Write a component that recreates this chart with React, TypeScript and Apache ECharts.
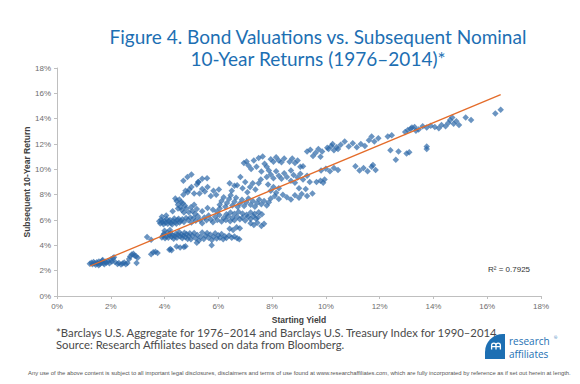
import React, { useEffect, useRef } from "react";
import * as echarts from "echarts";

const xTicks = [0, 2, 4, 6, 8, 10, 12, 14, 16, 18];
const yTicks = [0, 2, 4, 6, 8, 10, 12, 14, 16, 18];

const titleLines = [
  "Figure 4. Bond Valuations vs. Subsequent Nominal",
  "10-Year Returns (1976\u20132014)*",
];
const footLines = [
  "*Barclays U.S. Aggregate for 1976\u20132014 and Barclays U.S. Treasury Index for 1990\u20132014.",
  "Source: Research Affiliates based on data from Bloomberg.",
];
const disclaimer =
  "Any use of the above content is subject to all important legal disclosures, disclaimers and terms of use found at www.researchaffiliates.com, which are fully incorporated by reference as if set out herein at length.";
const rSquared = "R\u00b2 = 0.7925";

// starting yield (%), subsequent 10-year return (%)
const lowPoints = [
  [1.22, 2.55], [1.28, 2.62], [1.32, 2.5], [1.36, 2.68], [1.4, 2.58], [1.44, 2.47], [1.48, 2.66], [1.52, 2.56],
  [1.56, 2.72], [1.6, 2.52], [1.64, 2.64], [1.68, 2.78], [1.72, 2.6], [1.76, 2.5], [1.8, 2.7], [1.84, 2.62],
  [1.9, 2.75], [1.95, 2.58], [2.0, 2.88], [2.04, 2.72], [2.08, 2.98], [2.12, 3.05], [2.16, 2.68], [2.25, 2.52],
  [2.3, 2.6], [2.38, 2.48], [2.44, 2.56], [2.5, 2.64], [2.56, 2.5], [2.62, 2.6], [2.68, 2.92], [2.72, 3.12],
  [2.78, 3.28], [2.84, 3.34], [2.88, 3.2], [2.94, 3.14], [3.0, 3.02], [2.96, 2.6], [1.55, 2.42], [1.7, 2.85],
  [3.35, 4.65], [3.5, 4.45], [3.5, 3.3], [3.58, 3.45], [3.66, 3.5], [3.74, 3.4],
];

const midPoints = [
  [3.8, 5.9], [3.84, 5.72], [3.88, 6.02], [3.92, 5.82], [3.96, 5.66], [4.0, 5.95], [4.04, 5.78], [4.08, 6.08],
  [4.12, 5.7], [4.16, 5.9], [4.2, 6.0], [4.24, 5.76], [4.28, 5.64], [4.32, 5.92], [4.36, 6.12], [4.4, 5.84],
  [4.44, 5.7], [4.48, 6.0], [4.52, 6.1], [4.56, 5.8], [4.6, 5.95], [4.66, 6.05], [4.72, 5.85], [4.8, 6.15],
  [4.88, 6.0], [4.96, 6.2], [3.9, 6.25], [4.06, 6.35],
  [3.9, 4.62], [3.94, 4.78], [3.98, 4.92], [4.02, 4.56], [4.06, 4.7], [4.1, 5.02], [4.14, 4.6], [4.18, 4.82],
  [4.22, 4.96], [4.26, 4.66], [4.3, 4.8], [4.34, 4.52], [4.38, 4.72], [4.42, 4.9], [4.46, 4.6], [4.5, 4.84],
  [4.54, 5.06], [4.58, 4.7], [4.62, 4.86], [4.66, 4.55], [4.7, 4.76], [4.74, 5.0], [4.78, 4.64], [4.82, 4.9],
  [4.86, 4.5], [4.9, 4.74], [4.94, 4.96], [4.0, 5.15], [4.2, 5.22],
  [4.18, 3.66], [4.22, 3.72], [4.26, 3.62], [4.45, 3.9], [4.58, 3.82], [4.72, 3.86], [4.78, 3.92],
  [5.2, 4.2], [5.75, 4.0],
  [4.4, 7.7], [4.45, 7.5], [4.5, 7.2], [4.55, 7.62], [4.6, 7.0], [4.64, 6.78], [4.68, 7.32], [4.72, 6.6],
  [4.76, 7.12], [4.8, 6.9], [4.86, 8.2], [4.92, 8.4], [4.98, 7.0], [5.04, 6.7], [5.1, 7.2], [5.14, 6.5],
  [5.2, 8.8], [5.26, 9.0], [5.0, 8.6], [4.7, 8.0], [4.78, 8.3], [5.1, 8.1], [4.62, 7.4],
  [4.98, 4.48], [5.04, 4.75], [5.1, 4.98], [5.16, 4.56], [5.22, 4.82], [5.28, 4.38], [5.34, 4.66], [5.4, 5.02],
  [5.46, 4.5], [5.52, 4.76], [5.58, 4.98], [5.64, 4.6], [5.7, 4.85], [5.76, 4.42], [5.82, 4.68], [5.88, 4.95],
  [5.94, 4.54], [6.0, 4.8], [6.06, 4.6], [6.12, 4.9], [6.18, 4.48], [6.24, 4.72], [6.3, 4.58], [6.4, 4.78],
  [6.5, 4.6], [6.6, 4.7], [6.7, 4.55], [6.78, 4.48],
  [5.0, 5.8], [5.08, 6.15], [5.16, 5.94], [5.24, 6.3], [5.32, 6.0], [5.4, 5.75], [5.48, 6.2], [5.56, 5.98],
  [5.64, 6.35], [5.72, 6.04], [5.8, 5.82], [5.88, 6.25], [5.96, 6.0], [6.04, 6.4], [6.12, 5.88], [6.2, 6.15],
  [6.28, 6.0], [6.36, 6.3], [6.44, 5.9], [6.52, 6.15], [6.6, 5.98], [6.7, 6.25], [6.8, 6.05], [6.9, 6.2],
  [7.0, 5.96], [7.1, 6.25], [7.2, 6.08], [7.3, 6.3], [7.4, 6.1], [7.48, 6.22],
  [6.3, 6.45], [6.45, 6.6], [6.6, 6.5], [6.75, 6.65], [6.9, 6.52], [7.05, 6.42], [7.2, 6.6], [7.35, 6.5],
  [7.5, 6.62], [7.62, 6.46],
  [4.3, 6.7], [4.5, 6.9], [4.9, 6.62], [5.2, 6.86], [5.4, 6.7], [5.6, 6.95], [5.8, 6.8], [5.95, 6.66], [6.05, 6.9],
  [6.42, 5.3], [6.55, 5.22], [6.68, 5.42], [6.8, 5.34],
  [7.2, 5.75], [7.32, 5.6], [7.45, 5.78], [7.6, 5.52], [7.7, 5.7],
];

const upperPoints = [
  [6.05, 7.2], [6.12, 7.5], [6.2, 7.8], [6.26, 7.05], [6.32, 7.35], [6.4, 7.66], [6.46, 7.95], [6.52, 7.15],
  [6.6, 7.45], [6.66, 7.75], [6.72, 7.02], [6.8, 7.3], [6.88, 7.6], [6.96, 7.1], [7.04, 7.4], [7.12, 7.7],
  [7.2, 7.2], [7.28, 7.5], [7.36, 7.05], [7.44, 7.35], [7.52, 7.62], [7.6, 7.25], [7.7, 7.5], [7.8, 7.15], [7.88, 7.4],
  [5.3, 8.1], [5.4, 8.45], [5.5, 8.25], [5.6, 8.6], [5.72, 7.9], [5.82, 8.3], [5.92, 8.0], [6.02, 8.4],
  [6.42, 8.9], [6.5, 8.3], [6.6, 8.7], [6.7, 8.75], [6.82, 9.4], [6.9, 8.5], [7.0, 9.0], [7.08, 8.2],
  [7.18, 8.6], [7.28, 8.9], [7.38, 8.4], [7.5, 8.9], [7.58, 9.2],
  [4.7, 9.1], [4.85, 9.4], [5.0, 9.6], [5.25, 9.0], [5.4, 9.25], [5.58, 9.3],
  [6.95, 10.5], [7.05, 10.62], [7.12, 10.3], [7.22, 10.02], [7.32, 10.7], [7.42, 10.2], [7.5, 10.9], [7.6, 9.82],
  [7.65, 11.02], [7.72, 10.45], [7.8, 10.2], [7.88, 9.9], [7.8, 9.4],
  [7.95, 10.8], [8.05, 10.6], [8.15, 10.95], [8.25, 10.7], [8.35, 10.55], [8.45, 10.85], [8.65, 10.6], [8.75, 10.85],
  [8.85, 10.5], [8.95, 10.7], [9.05, 10.2], [9.15, 10.25],
  [9.3, 11.4], [9.42, 11.55], [9.52, 11.05], [9.62, 11.3], [9.72, 11.6], [9.8, 11.0], [9.86, 11.4], [10.1, 11.6],
  [10.2, 11.85], [10.3, 11.5], [10.4, 11.75],
  [7.95, 9.6], [8.05, 9.3], [8.15, 9.85], [8.25, 9.5], [8.35, 9.25], [8.45, 9.7], [8.55, 9.4], [8.7, 9.9], [8.8, 9.55],
  [8.7, 9.1], [8.85, 8.95], [8.95, 9.35], [9.05, 9.65], [9.15, 9.2], [9.3, 9.5], [9.4, 9.0],
  [9.65, 9.0], [9.8, 9.1], [9.9, 8.95], [9.95, 9.2],
  [7.85, 8.8], [7.95, 8.3], [8.05, 8.6], [8.15, 8.15], [8.25, 8.5],
  [7.95, 7.7], [8.1, 7.9], [8.25, 7.65], [8.4, 8.0], [8.55, 7.8], [8.7, 7.62], [8.85, 7.95], [9.0, 7.75],
  [9.1, 8.05], [9.3, 7.9], [9.5, 8.1], [9.0, 8.5], [9.25, 8.45],
];

const highPoints = [
  [9.82, 9.9], [10.0, 10.05], [10.15, 9.85], [10.3, 10.1], [10.45, 9.95],
  [10.05, 11.7], [10.25, 12.0], [10.45, 11.6], [10.55, 11.95], [10.7, 12.2], [10.85, 11.8], [11.0, 12.05], [11.15, 11.75],
  [11.3, 12.0], [11.45, 11.85], [11.6, 12.3], [11.7, 12.6], [11.8, 12.2], [11.95, 12.45], [12.3, 12.6], [12.45, 12.7],
  [12.95, 12.95], [13.05, 13.1], [13.2, 13.3], [13.35, 13.05],
  [11.1, 10.25], [11.25, 9.9], [11.4, 10.1], [11.55, 9.85], [11.7, 10.2], [11.85, 9.95], [11.75, 10.35],
  [12.4, 11.5], [12.7, 11.4], [12.6, 10.75], [13.0, 11.25], [13.1, 11.35],
  [13.15, 13.2], [13.3, 13.35], [13.45, 13.15], [13.6, 13.4], [13.75, 13.3], [13.9, 13.45], [14.05, 13.35], [14.2, 13.25],
  [14.3, 13.5], [14.45, 13.4], [14.55, 13.65], [14.62, 13.9], [14.7, 14.1], [14.75, 13.6], [14.85, 13.8], [14.95, 13.5],
  [15.2, 14.1], [15.4, 13.9], [16.3, 14.4], [16.5, 14.7],
  [13.75, 11.6], [13.75, 11.8],
];

// linear trend line end points
const trendX = [1.23, 16.5];
const trendY = [2.37, 15.9];

const BLUE = "#1d6fb3";

export default function App() {
  const ref = useRef<HTMLDivElement>(null);
  useEffect(() => {
    if (!ref.current) return;
    echarts.graphic.registerShape(
      "logo",
      echarts.graphic.extendPath(
        "M0.6 7 L0.6 3.2 Q0.6 0.6 2.8 0.6 Q5 0.6 5 3.2 L5 7 M5 3.2 Q5 0.6 7.2 0.6 Q9.4 0.6 9.4 3.2 L9.4 7 M0.6 4.2 L9.4 4.2",
        {}
      ) as any
    );
    const chart = echarts.init(ref.current, undefined, { renderer: "svg" });
    const axisCommon = {
      type: "value" as const,
      min: xTicks[0],
      max: xTicks[xTicks.length - 1],
      interval: xTicks[1] - xTicks[0],
      splitLine: { show: false },
      axisLine: { show: true, lineStyle: { color: "#bfbfbf", width: 1 } },
      axisTick: { show: true, length: 3, lineStyle: { color: "#bfbfbf" } },
      axisLabel: {
        formatter: "{value}%",
        color: "#6e6e6e",
        fontSize: 8,
        fontFamily: "Liberation Sans",
        margin: 6,
      },
      nameLocation: "middle" as const,
      nameMoveOverlap: false,
      nameTextStyle: {
        color: "#404040",
        fontSize: 8.5,
        fontWeight: "bold" as const,
        fontFamily: "Liberation Sans",
      },
    };
    const allPoints = [...lowPoints, ...midPoints, ...upperPoints, ...highPoints];
    const txt = (text: string, x: number, y: number, extra: any) => ({
      type: "text",
      style: { text, x, y, textVerticalAlign: "middle", ...extra },
    });
    chart.setOption({
      animation: false,
      grid: { left: 57, right: 39, top: 68, bottom: 88, containLabel: false },
      xAxis: { ...axisCommon, name: "Starting Yield", nameGap: 19 },
      yAxis: {
        ...axisCommon,
        min: yTicks[0],
        max: yTicks[yTicks.length - 1],
        interval: yTicks[1] - yTicks[0],
        name: "Subsequent 10-Year Return",
        nameGap: 26,
      },
      series: [
        {
          type: "scatter",
          data: allPoints,
          symbol: "diamond",
          symbolSize: 6.5,
          itemStyle: { color: "#2b67a6", opacity: 0.7 },
          z: 2,
        },
        {
          type: "line",
          data: trendX.map((x, i) => [x, trendY[i]]),
          symbol: "none",
          lineStyle: { color: "#e46c2a", width: 1.3 },
          z: 3,
        },
      ],
      graphic: [
        txt(titleLines[0], 318, 36, { textAlign: "center", fontSize: 19, fontFamily: "Lato", fill: BLUE }),
        txt(titleLines[1], 318, 58, { textAlign: "center", fontSize: 19, fontFamily: "Lato", fill: BLUE }),
        txt(rSquared, 488, 269, { fontSize: 8, fontFamily: "Liberation Sans", fill: "#333333" }),
        txt(footLines[0], 56, 332, { fontSize: 11.3, fontFamily: "Lato", fill: "#4a4a4a" }),
        txt(footLines[1], 56, 344, { fontSize: 11.3, fontFamily: "Lato", fill: "#4a4a4a" }),
        txt(disclaimer, 28, 373, { fontSize: 5.85, fontFamily: "Liberation Sans", fill: "#555555" }),
        {
          type: "rect",
          shape: { x: 485, y: 334, width: 20, height: 25, r: [18, 0, 0, 0] },
          style: { fill: BLUE },
        },
        {
          type: "logo",
          x: 491,
          y: 342.5,
          scaleX: 1,
          scaleY: 1,
          style: { stroke: "#ffffff", fill: null, lineWidth: 1.3 },
        },
        txt("research", 509, 341, { fontSize: 10, lineHeight: 8, fontFamily: "Open Sans", fill: BLUE }),
        txt("\u00ae", 554, 337.5, { fontSize: 4, lineHeight: 4, fontFamily: "Open Sans", fill: BLUE }),
        txt("affiliates", 509, 353.5, { fontSize: 10, lineHeight: 8, fontFamily: "Open Sans", fill: BLUE }),
      ],
    });
    return () => chart.dispose();
  }, []);
  return (
    <div
      ref={ref}
      style={{ position: "fixed", left: 0, top: 0, width: 580, height: 384, background: "#ffffff" }}
    />
  );
}
